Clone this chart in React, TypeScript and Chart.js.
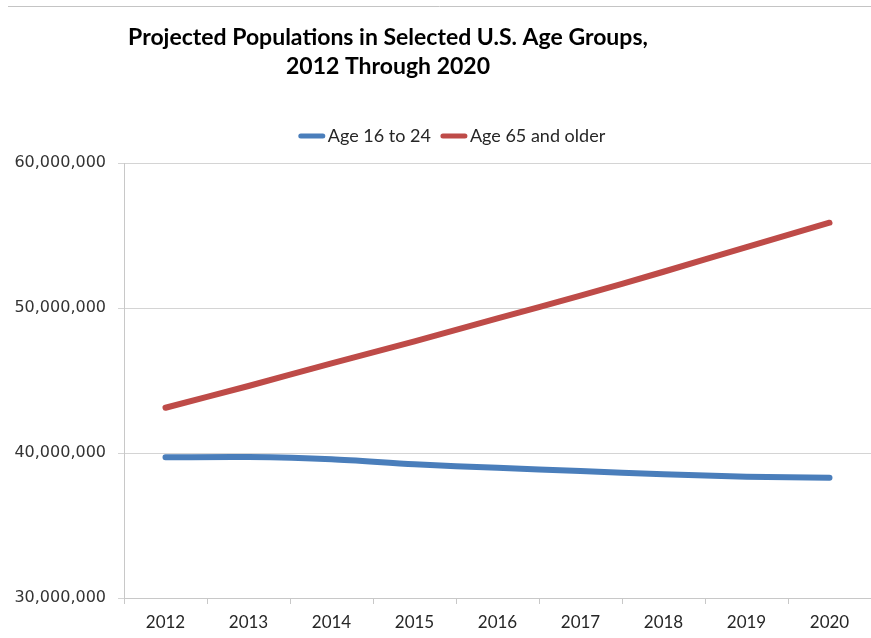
import React, { useEffect, useRef } from "react";
import { Chart, registerables } from "chart.js";

Chart.register(...registerables);

const titleLines = ["Projected Populations in Selected U.S. Age Groups,", "2012 Through 2020"];
const years = ["2012", "2013", "2014", "2015", "2016", "2017", "2018", "2019", "2020"];
const age16to24 = [39.70e6, 39.72e6, 39.57e6, 39.22e6, 38.98e6, 38.76e6, 38.53e6, 38.37e6, 38.30e6];
const age65plus = [43.12e6, 44.62e6, 46.18e6, 47.70e6, 49.28e6, 50.85e6, 52.50e6, 54.20e6, 55.88e6];
const seriesNames = ["Age 16 to 24", "Age 65 and older"];
const seriesColors = ["#4a7ebb", "#be4b48"];
const yMin = 30000000;
const yMax = 60000000;
const yStep = 10000000;

const headerPlugin = {
  id: "header",
  beforeDraw(chart: any) {
    const ctx = chart.ctx;
    ctx.save();
    ctx.strokeStyle = "#c4c4c4";
    ctx.lineWidth = 1;
    ctx.beginPath();
    ctx.moveTo(8, 6.5);
    ctx.lineTo(871, 6.5);
    ctx.stroke();
    ctx.restore();
  },
  afterDraw(chart: any) {
    const ctx = chart.ctx;
    ctx.save();
    ctx.fillStyle = "#000";
    ctx.font = "bold 23px Lato";
    ctx.textAlign = "center";
    ctx.textBaseline = "middle";
    ctx.fillText(titleLines[0], 388, 38);
    ctx.fillText(titleLines[1], 388, 67);

    // legend
    ctx.font = "18px Lato";
    ctx.textAlign = "left";
    const sample = 26;
    const gapText = 3;
    const gapItem = 10;
    const widths = seriesNames.map((n) => ctx.measureText(n).width);
    const total = widths.reduce((a, w) => a + sample + gapText + w, 0) + gapItem * (seriesNames.length - 1);
    let x = 452 - total / 2;
    const y = 136;
    seriesNames.forEach((name, i) => {
      ctx.strokeStyle = seriesColors[i];
      ctx.lineWidth = 5;
      ctx.lineCap = "round";
      ctx.beginPath();
      ctx.moveTo(x + 2, y);
      ctx.lineTo(x + sample - 2, y);
      ctx.stroke();
      ctx.fillStyle = "#262626";
      ctx.fillText(name, x + sample + gapText, y);
      x += sample + gapText + widths[i] + gapItem;
    });
    ctx.restore();
  },
};

export default function App() {
  const ref = useRef<HTMLCanvasElement>(null);
  useEffect(() => {
    const chart = new Chart(ref.current!, {
      type: "line",
      data: {
        labels: years,
        datasets: [
          {
            label: seriesNames[0],
            data: age16to24,
            borderColor: seriesColors[0],
            backgroundColor: seriesColors[0],
            borderWidth: 6,
            borderCapStyle: "round",
            pointRadius: 0,
            tension: 0.3,
          },
          {
            label: seriesNames[1],
            data: age65plus,
            borderColor: seriesColors[1],
            backgroundColor: seriesColors[1],
            borderWidth: 6,
            borderCapStyle: "round",
            pointRadius: 0,
            tension: 0.3,
          },
        ],
      },
      options: {
        responsive: false,
        animation: false,
        layout: { padding: { top: 163, left: 0, right: 0, bottom: 0 } },
        plugins: {
          legend: { display: false },
          title: { display: false },
          tooltip: { enabled: false },
        },
        scales: {
          x: {
            offset: true,
            grid: {
              offset: true,
              drawOnChartArea: false,
              drawTicks: true,
              tickLength: 6,
              color: "#c8c8c8",
            },
            border: { color: "#c8c8c8" },
            ticks: {
              color: "#262626",
              font: { family: "Lato", size: 17 },
              padding: 8,
              maxRotation: 0,
            },
            afterFit(scale: any) {
              scale.height = 40;
            },
          },
          y: {
            min: yMin,
            max: yMax,
            grid: { color: "#d4d4d4", tickLength: 6 },
            border: { color: "#c8c8c8" },
            ticks: {
              stepSize: yStep,
              color: "#333333",
              font: { family: "DejaVu Sans", size: 16 },
              padding: 12,
              callback: (v: any) => Number(v).toLocaleString("en-US"),
            },
            afterFit(scale: any) {
              scale.width = 124;
            },
          },
        },
      },
      plugins: [headerPlugin],
    });
    return () => chart.destroy();
  }, []);
  return (
    <div style={{ position: "fixed", left: 0, top: 0, width: 871, height: 638, background: "#fff" }}>
      <canvas ref={ref} width={871} height={638} style={{ display: "block" }} />
    </div>
  );
}
